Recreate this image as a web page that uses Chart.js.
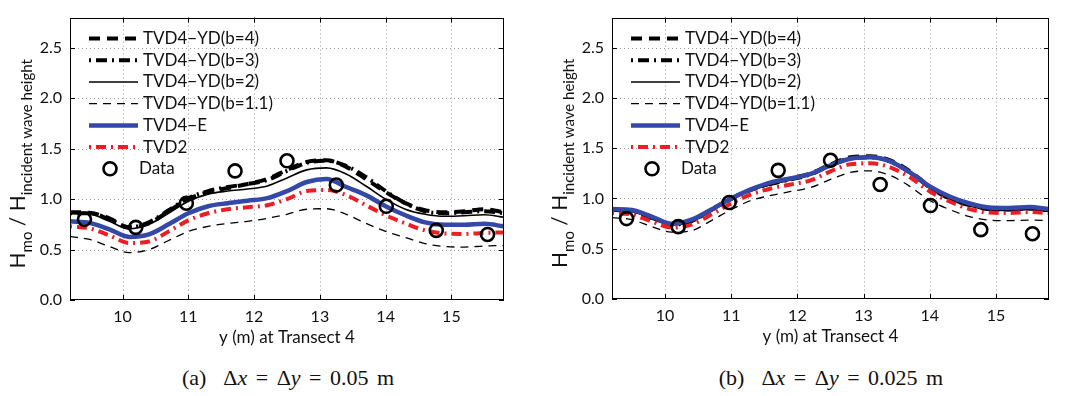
<!DOCTYPE html>
<html><head><meta charset="utf-8">
<script src="https://cdn.jsdelivr.net/npm/chart.js@4/dist/chart.umd.min.js"></script>
<style>
body{margin:0;background:#fff;width:1067px;height:396px;overflow:hidden;position:relative}
.panel{position:absolute;top:0}
.cap{position:absolute;top:365px;width:300px;text-align:center;font-family:"Liberation Serif","DejaVu Serif",serif;font-size:22px;word-spacing:3px;white-space:pre;color:#111}
</style></head><body>
<div class="panel" style="left:0"><canvas id="c1" width="533" height="352"></canvas></div>
<div class="panel" style="left:533px"><canvas id="c2" width="534" height="352"></canvas></div>
<div class="cap" style="left:138px">(a)  Δ<i>x</i> = Δ<i>y</i> = 0.05 m</div>
<div class="cap" style="left:681px">(b)  Δ<i>x</i> = Δ<i>y</i> = 0.025 m</div>
<script>
// ---- data ----
const xs = [9.2, 9.5, 9.8, 10.1, 10.4, 10.7, 11.0, 11.3, 11.6, 11.9, 12.2, 12.5, 12.8, 13.1, 13.4, 13.7, 14.0, 14.3, 14.6, 14.9, 15.2, 15.5, 15.8];
const tickX = [10, 11, 12, 13, 14, 15];
const tickY = [0, 0.5, 1.0, 1.5, 2.0, 2.5];
const seriesLabels = ['TVD4\u2212YD(b=4)', 'TVD4\u2212YD(b=3)', 'TVD4\u2212YD(b=2)', 'TVD4\u2212YD(b=1.1)', 'TVD4\u2212E', 'TVD2'];
const dataLabel = 'Data';
const dataX = [9.42, 10.2, 10.97, 11.71, 12.5, 13.25, 14.01, 14.77, 15.55];
const dataY = [0.80, 0.72, 0.96, 1.28, 1.38, 1.14, 0.93, 0.69, 0.65];

// panel (a) dx = dy = 0.05 m
const aB4  = [0.87, 0.865, 0.81, 0.72, 0.76, 0.88, 1.00, 1.07, 1.11, 1.15, 1.20, 1.29, 1.37, 1.385, 1.32, 1.20, 1.07, 0.96, 0.89, 0.87, 0.88, 0.90, 0.87];
const aB3  = [0.86, 0.86, 0.80, 0.72, 0.77, 0.89, 1.01, 1.08, 1.12, 1.15, 1.19, 1.28, 1.36, 1.38, 1.33, 1.22, 1.08, 0.96, 0.88, 0.86, 0.87, 0.88, 0.86];
const aB2  = [0.855, 0.85, 0.78, 0.705, 0.75, 0.86, 0.98, 1.05, 1.08, 1.10, 1.13, 1.21, 1.29, 1.31, 1.25, 1.13, 1.00, 0.90, 0.85, 0.83, 0.835, 0.845, 0.82];
const aB11 = [0.63, 0.60, 0.53, 0.47, 0.50, 0.59, 0.68, 0.73, 0.76, 0.78, 0.81, 0.85, 0.90, 0.905, 0.85, 0.76, 0.68, 0.62, 0.56, 0.53, 0.525, 0.535, 0.54];
const aE   = [0.78, 0.765, 0.70, 0.625, 0.65, 0.75, 0.86, 0.93, 0.96, 0.985, 1.01, 1.08, 1.17, 1.20, 1.12, 1.04, 0.93, 0.84, 0.77, 0.745, 0.745, 0.755, 0.73];
const aT2  = [0.73, 0.71, 0.64, 0.565, 0.58, 0.68, 0.79, 0.86, 0.90, 0.92, 0.94, 1.00, 1.08, 1.09, 1.04, 0.94, 0.84, 0.76, 0.69, 0.66, 0.655, 0.665, 0.67];

// panel (b) dx = dy = 0.025 m
const bB4  = [0.885, 0.88, 0.81, 0.745, 0.78, 0.89, 1.00, 1.09, 1.15, 1.20, 1.25, 1.34, 1.41, 1.42, 1.38, 1.27, 1.12, 1.01, 0.94, 0.90, 0.895, 0.905, 0.885];
const bB3  = [0.88, 0.875, 0.805, 0.74, 0.775, 0.885, 0.995, 1.085, 1.145, 1.19, 1.24, 1.33, 1.40, 1.41, 1.37, 1.26, 1.11, 1.00, 0.935, 0.895, 0.89, 0.90, 0.88];
const bB2  = [0.875, 0.87, 0.80, 0.735, 0.77, 0.875, 0.99, 1.08, 1.14, 1.185, 1.235, 1.32, 1.39, 1.40, 1.36, 1.25, 1.10, 0.99, 0.925, 0.885, 0.88, 0.89, 0.87];
const bB11 = [0.81, 0.79, 0.72, 0.665, 0.68, 0.78, 0.89, 0.98, 1.03, 1.07, 1.11, 1.19, 1.26, 1.275, 1.23, 1.12, 0.98, 0.89, 0.82, 0.785, 0.78, 0.785, 0.78];
const bE   = [0.895, 0.885, 0.82, 0.75, 0.79, 0.89, 1.00, 1.09, 1.16, 1.20, 1.245, 1.33, 1.395, 1.41, 1.37, 1.26, 1.12, 1.02, 0.95, 0.91, 0.905, 0.915, 0.895];
const bT2  = [0.855, 0.84, 0.77, 0.71, 0.74, 0.84, 0.95, 1.04, 1.10, 1.14, 1.18, 1.27, 1.34, 1.35, 1.31, 1.21, 1.07, 0.97, 0.895, 0.86, 0.855, 0.865, 0.855];

// ---- styles ----
const lineStyles = [
  {color: '#000', width: 4, dash: [11, 7]},
  {color: '#000', width: 4, dash: [2, 5, 11, 5]},
  {color: '#000', width: 1.6, dash: []},
  {color: '#000', width: 1.3, dash: [8, 6]},
  {color: 'rgb(52,72,168)', width: 4.5, dash: []},
  {color: 'rgb(235,30,36)', width: 4, dash: [2, 5, 10, 5]}
];
const FONT = 'Lato, "Liberation Sans", sans-serif';

function deco() {
  const ln = (ctx, x1, y1, x2, y2) => { ctx.beginPath(); ctx.moveTo(x1, y1); ctx.lineTo(x2, y2); ctx.stroke(); };
  return {
    id: 'deco',
    beforeDatasetsDraw(chart) {
      const {ctx, chartArea: a, scales: {x, y}} = chart;
      ctx.save();
      ctx.strokeStyle = '#9a9a9a';
      ctx.lineWidth = 1;
      ctx.setLineDash([1, 3]);
      tickX.forEach(v => { const p = Math.round(x.getPixelForValue(v)) + 0.5; ln(ctx, p, a.top, p, a.bottom); });
      tickY.forEach(v => { if (v === 0) return; const p = Math.round(y.getPixelForValue(v)) + 0.5; ln(ctx, a.left, p, a.right, p); });
      ctx.restore();
    },
    afterDraw(chart) {
      const {ctx, chartArea: a, scales: {x, y}} = chart;
      ctx.save();
      ctx.setLineDash([]);
      ctx.strokeStyle = '#000';
      ctx.lineWidth = 1;
      tickX.forEach(v => { const p = Math.round(x.getPixelForValue(v)) + 0.5; ln(ctx, p, a.bottom, p, a.bottom - 5); ln(ctx, p, a.top, p, a.top + 5); });
      tickY.forEach(v => { const p = Math.round(y.getPixelForValue(v)) + 0.5; ln(ctx, a.left, p, a.left + 5, p); ln(ctx, a.right, p, a.right - 5, p); });
      ctx.strokeRect(Math.round(a.left) + 0.5, Math.round(a.top) + 0.5, Math.round(a.width) - 1, Math.round(a.height) - 1);

      // legend
      ctx.font = '17px ' + FONT;
      ctx.textBaseline = 'middle';
      ctx.fillStyle = '#111';
      seriesLabels.forEach((lab, i) => {
        const s = lineStyles[i];
        const yy = a.top + 21 + i * 21.7;
        ctx.strokeStyle = s.color; ctx.lineWidth = s.width; ctx.setLineDash(s.dash);
        ln(ctx, a.left + 19, yy, a.left + 68, yy);
        ctx.setLineDash([]);
        ctx.fillText(lab, a.left + 73, yy);
      });
      const yd = a.top + 21 + 6 * 21.7;
      ctx.strokeStyle = '#000'; ctx.lineWidth = 2.6;
      ctx.beginPath(); ctx.arc(a.left + 40, yd, 6.5, 0, Math.PI * 2); ctx.stroke();
      ctx.fillText(dataLabel, a.left + 69, yd);

      // x title
      ctx.textAlign = 'center';
      ctx.textBaseline = 'middle';
      ctx.font = '17px ' + FONT;
      ctx.fillText('y (m) at Transect 4', (a.left + a.right) / 2, a.bottom + 38);

      // y title with subscripts
      const segs = [
        {t: 'H', f: 21, dy: 0}, {t: 'mo', f: 15, dy: 7}, {t: ' / ', f: 21, dy: 0},
        {t: 'H', f: 21, dy: 0}, {t: 'incident wave height', f: 15, dy: 7}
      ];
      ctx.textAlign = 'left';
      ctx.textBaseline = 'alphabetic';
      let total = 0;
      segs.forEach(s => { ctx.font = s.f + 'px ' + FONT; s.w = ctx.measureText(s.t).width; total += s.w; });
      ctx.translate(a.left - 45, (a.top + a.bottom) / 2 + 5);
      ctx.rotate(-Math.PI / 2);
      let px = -total / 2;
      segs.forEach(s => { ctx.font = s.f + 'px ' + FONT; ctx.fillText(s.t, px, s.dy); px += s.w; });
      ctx.restore();
    }
  };
}

function makeChart(id, series, pad, yW, xH) {
  const datasets = [{
    type: 'scatter', label: dataLabel,
    data: dataX.map((v, i) => ({x: v, y: dataY[i]})),
    pointRadius: 6.5, pointBorderWidth: 2.6, pointBorderColor: '#000', pointBackgroundColor: 'rgba(0,0,0,0)',
    showLine: false, order: 0
  }];
  series.forEach((arr, k) => {
    const s = lineStyles[k];
    datasets.push({
      type: 'line', label: seriesLabels[k],
      data: xs.map((v, i) => ({x: v, y: arr[i]})),
      borderColor: s.color, borderWidth: s.width, borderDash: s.dash,
      pointRadius: 0, fill: false, cubicInterpolationMode: 'monotone',
      order: 6 - k
    });
  });
  return new Chart(document.getElementById(id), {
    data: {datasets},
    plugins: [deco()],
    options: {
      responsive: false, animation: false, devicePixelRatio: 1,
      layout: {padding: pad},
      plugins: {legend: {display: false}, tooltip: {enabled: false}},
      scales: {
        x: {
          type: 'linear', min: 9.2, max: 15.8,
          afterBuildTicks: s => { s.ticks = tickX.map(v => ({value: v})); },
          afterFit: s => { s.height = xH; },
          grid: {display: false, drawTicks: false},
          border: {display: false},
          ticks: {padding: 7, color: '#111', font: {family: FONT, size: 16}, maxRotation: 0, callback: v => String(v)}
        },
        y: {
          type: 'linear', min: 0, max: 2.8,
          afterBuildTicks: s => { s.ticks = tickY.map(v => ({value: v})); },
          afterFit: s => { s.width = yW; },
          grid: {display: false, drawTicks: false},
          border: {display: false},
          ticks: {padding: 8, color: '#111', font: {family: FONT, size: 16}, callback: v => v.toFixed(1)}
        }
      }
    }
  });
}

makeChart('c1', [aB4, aB3, aB2, aB11, aE, aT2], {left: 0, top: 4, right: 29, bottom: 0}, 70, 52);
makeChart('c2', [bB4, bB3, bB2, bB11, bE, bT2], {left: 0, top: 3, right: 18, bottom: 0}, 79, 53);
</script>
</body></html>
